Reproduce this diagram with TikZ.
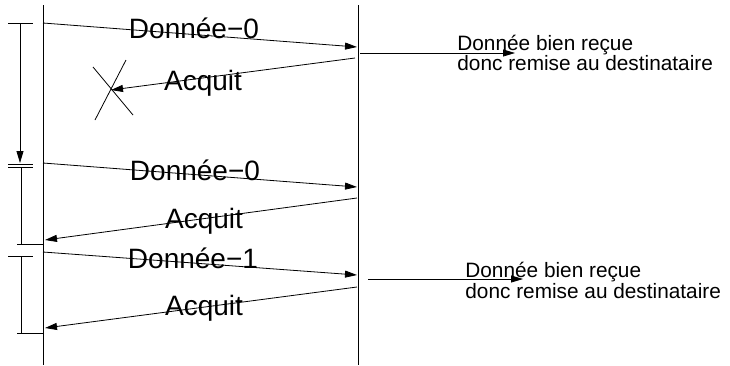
\documentclass[tikz,border=0pt]{standalone}
\usepackage{fontspec}
\setmainfont{Liberation Sans}
\usetikzlibrary{arrows.meta}
\begin{document}
\begin{tikzpicture}[
		x=1pt, y=-1pt,
		line width=0.8pt,
		msg/.style={-{Triangle[length=12pt,width=7pt]}},
		big/.style={font=\fontsize{28}{30}\selectfont, inner sep=0pt, anchor=base},
		note/.style={font=\fontsize{20.8}{20.8}\selectfont, inner sep=0pt, anchor=base west}
	]
	\useasboundingbox (0,0) rectangle (730,365);
	% lifelines
	\coordinate (s top) at (43,5);
	\coordinate (s bot) at (43,365);
	\coordinate (r top) at (358,5);
	\coordinate (r bot) at (358,365);
	\draw (s top) -- (s bot);
	\draw (r top) -- (r bot);
	% endpoints of messages
	\coordinate (d0a) at (43,23);
	\coordinate (d0b) at (357,47);
	\coordinate (a0a) at (355,58);
	\coordinate (lost) at (111,90);
	\coordinate (d1a) at (43,163);
	\coordinate (d1b) at (357,187);
	\coordinate (a1a) at (357,198);
	\coordinate (a1b) at (45,240);
	\coordinate (d2a) at (43,252);
	\coordinate (d2b) at (357,275);
	\coordinate (a2a) at (357,287);
	\coordinate (a2b) at (45,328);
	\draw[msg] (d0a) -- (d0b);
	\draw[msg] (a0a) -- (lost);
	\draw[msg] (d1a) -- (d1b);
	\draw[msg] (a1a) -- (a1b);
	\draw[msg] (d2a) -- (d2b);
	\draw[msg] (a2a) -- (a2b);
	\node[big] (data0) at (194,38) {Donnée−0};
	\node[big] (ack0) at (203,90) {Acquit};
	\node[big] (data1) at (195,180) {Donnée−0};
	\node[big] (ack1) at (204,228) {Acquit};
	\node[big] (data2) at (193,268) {Donnée−1};
	\node[big] (ack2) at (204,315) {Acquit};
	% lost acknowledgement
	\draw (93,67) -- (133,115);
	\draw (126,60) -- (95,120);
	% timers
	\coordinate (t0a) at (20,23);
	\coordinate (t0b) at (20,163);
	\draw (8,23) -- (33,23);
	\draw[msg] (t0a) -- (t0b);
	\draw (8,164) -- (33,164);
	\draw (8,167) -- (33,167);
	\draw (21,167) -- (21,244);
	\draw (17,244) -- (43,244);
	\draw (8,256) -- (33,256);
	\draw (21,256) -- (21,333);
	\draw (17,333) -- (43,333);
	% delivery notes
	\coordinate (n0a) at (360,53);
	\coordinate (n0b) at (515,53);
	\coordinate (n1a) at (368,279);
	\coordinate (n1b) at (523,279);
	\draw[msg] (n0a) -- (n0b);
	\draw[msg] (n1a) -- (n1b);
	\node[note] (ok0) at (457,50) {Donnée bien reçue};
	\node[note] (ok0b) at (457,70) {donc remise au destinataire};
	\node[note] (ok1) at (465,277) {Donnée bien reçue};
	\node[note] (ok1b) at (465,298) {donc remise au destinataire};
\end{tikzpicture}
\end{document}
